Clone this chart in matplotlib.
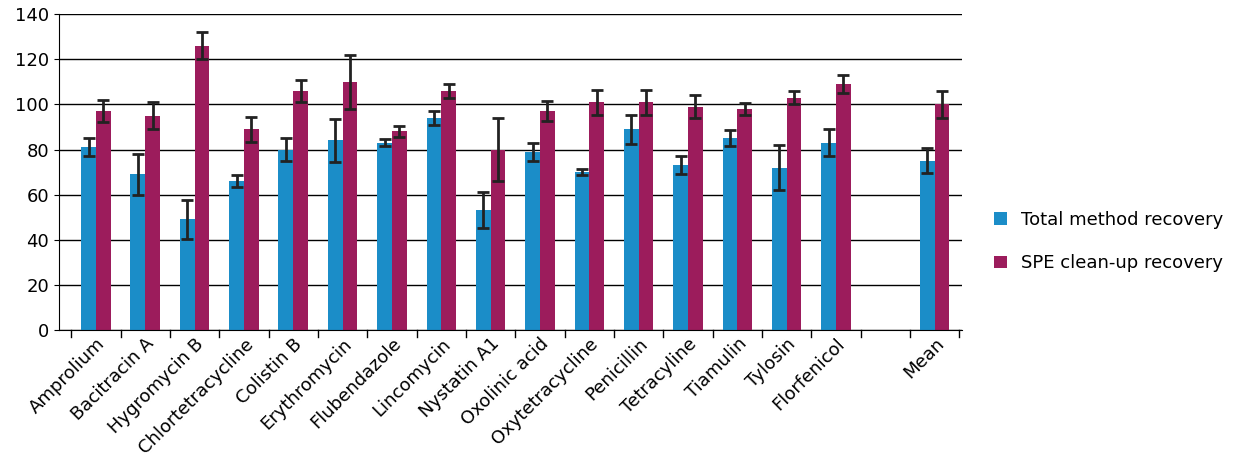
import matplotlib
matplotlib.use("Agg")
import matplotlib.pyplot as plt
import numpy as np

categories = ["Amprolium","Bacitracin A","Hygromycin B","Chlortetracycline","Colistin B",
              "Erythromycin","Flubendazole","Lincomycin","Nystatin A1","Oxolinic acid",
              "Oxytetracycline","Penicillin","Tetracyline","Tiamulin","Tylosin","Florfenicol","","Mean"]
total = [81,69,49,66,80,84,83,94,53,79,70,89,73,85,72,83,np.nan,75]
total_err = [4,9,8.5,2.5,5,9.5,1.5,3,8,4,1.5,6.5,4,3.5,10,6,np.nan,5.5]
spe = [97,95,126,89,106,110,88,106,80,97,101,101,99,98,103,109,np.nan,100]
spe_err = [5,6,6,5.5,5,12,2.5,3,14,4.5,5.5,5.5,5,2.5,3,4,np.nan,6]

fig = plt.figure(figsize=(12.54,4.74), dpi=100)
ax = fig.add_axes([0.047,0.304,0.72,0.666])
x = np.arange(len(categories))
w = 0.3
blue = "#1B8DC8"; red = "#9C1C5C"
ax.bar(x-w/2, total, w, color=blue, label="Total method recovery", zorder=2,
       yerr=total_err, error_kw=dict(ecolor="#222222", capsize=4, elinewidth=2, capthick=2))
ax.bar(x+w/2, spe, w, color=red, label="SPE clean-up recovery", zorder=2,
       yerr=spe_err, error_kw=dict(ecolor="#222222", capsize=4, elinewidth=2, capthick=2))
ax.set_ylim(0,140)
ax.set_yticks(range(0,141,20))
ax.set_xlim(-0.75, 17.55)
ax.yaxis.grid(True, color="black", linewidth=1, zorder=0)
ax.set_axisbelow(True)
for s in ["top","right"]:
    ax.spines[s].set_visible(False)
ax.set_xticks(x)
ax.set_xticklabels(categories, rotation=45, ha="right", rotation_mode="anchor", fontsize=13)
ax.tick_params(axis="y", labelsize=13)
ax.tick_params(axis="x", length=0)
for xv in np.arange(-0.5, 18, 1):
    ax.plot([xv,xv],[0,-3], color="black", lw=1, clip_on=False)
fig.legend(loc="center left", bbox_to_anchor=(0.78,0.49), frameon=False, fontsize=13,
           handlelength=0.7, handleheight=0.7, labelspacing=1.4)
fig.savefig("out.png")
